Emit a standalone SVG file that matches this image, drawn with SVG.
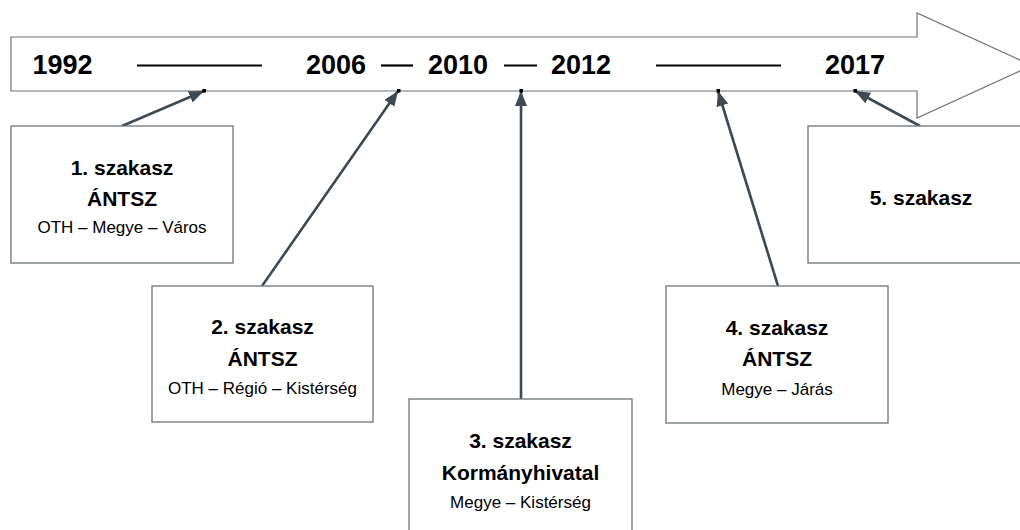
<svg xmlns="http://www.w3.org/2000/svg" width="1020" height="530" viewBox="0 0 1020 530">
<style>
.box{fill:#ffffff;stroke:#6b7377;stroke-width:1.3}
.band{fill:#ffffff;stroke:#6b7377;stroke-width:1.2}
.yr{font-family:"Liberation Sans",Arial,sans-serif;font-weight:bold;font-size:27px;fill:#000;text-anchor:middle}
.rule{stroke:#000;stroke-width:2.2}
.t{font-family:"Liberation Sans",Arial,sans-serif;font-weight:bold;font-size:21px;fill:#000;text-anchor:middle}
.s{font-family:"Liberation Sans",Arial,sans-serif;font-size:17px;fill:#000;text-anchor:middle}
.conn{fill:none;stroke:#3e4951;stroke-width:2.6;marker-end:url(#ah)}
.dot{fill:#000}
</style>
<defs>
<marker id="ah" markerUnits="userSpaceOnUse" markerWidth="16" markerHeight="14" refX="15" refY="6" orient="auto">
<path d="M0,0 L15,6 L0,12 Z" fill="#3e4951"/>
</marker>
</defs>
<g id="timeline">
<path class="band" d="M11,37 H917 V13 L1032,65.5 L917,118 V91 H11 Z"/>
<text class="yr" x="62.5" y="74">1992</text>
<line class="rule" x1="137" y1="65.5" x2="262" y2="65.5"/>
<text class="yr" x="336" y="74">2006</text>
<line class="rule" x1="381" y1="65.5" x2="413" y2="65.5"/>
<text class="yr" x="458" y="74">2010</text>
<line class="rule" x1="504" y1="65.5" x2="537" y2="65.5"/>
<text class="yr" x="581" y="74">2012</text>
<line class="rule" x1="656" y1="65.5" x2="781" y2="65.5"/>
<text class="yr" x="855" y="74">2017</text>
</g>
<g id="connectors">
<path class="conn" d="M122,126 L204,91"/>
<path class="conn" d="M262,286 L398,91"/>
<path class="conn" d="M521,399 L521,91"/>
<path class="conn" d="M778,286 L718,91"/>
<path class="conn" d="M920,126 L855,91"/>
<rect class="dot" x="202.5" y="89" width="3.5" height="3.5"/>
<rect class="dot" x="397" y="89" width="3.5" height="3.5"/>
<rect class="dot" x="519.5" y="89" width="3.5" height="3.5"/>
<rect class="dot" x="716.5" y="89" width="3.5" height="3.5"/>
<rect class="dot" x="853.5" y="89" width="3.5" height="3.5"/>
</g>
<g id="stage1">
<rect class="box" x="11" y="126" width="222" height="137"/>
<text class="t" x="122" y="175">1. szakasz</text>
<text class="t" x="122" y="206">ÁNTSZ</text>
<text class="s" x="122" y="233">OTH – Megye – Város</text>
</g>
<g id="stage2">
<rect class="box" x="152" y="286" width="221" height="136"/>
<text class="t" x="262.5" y="334">2. szakasz</text>
<text class="t" x="262.5" y="366">ÁNTSZ</text>
<text class="s" x="262.5" y="394">OTH – Régió – Kistérség</text>
</g>
<g id="stage3">
<rect class="box" x="409" y="399" width="223" height="140"/>
<text class="t" x="520.5" y="448">3. szakasz</text>
<text class="t" x="520.5" y="480">Kormányhivatal</text>
<text class="s" x="520.5" y="508">Megye – Kistérség</text>
</g>
<g id="stage4">
<rect class="box" x="666" y="286" width="222" height="137"/>
<text class="t" x="777" y="335">4. szakasz</text>
<text class="t" x="777" y="366">ÁNTSZ</text>
<text class="s" x="777" y="395">Megye – Járás</text>
</g>
<g id="stage5">
<rect class="box" x="808" y="126" width="226" height="137"/>
<text class="t" x="921" y="205">5. szakasz</text>
</g>
</svg>
